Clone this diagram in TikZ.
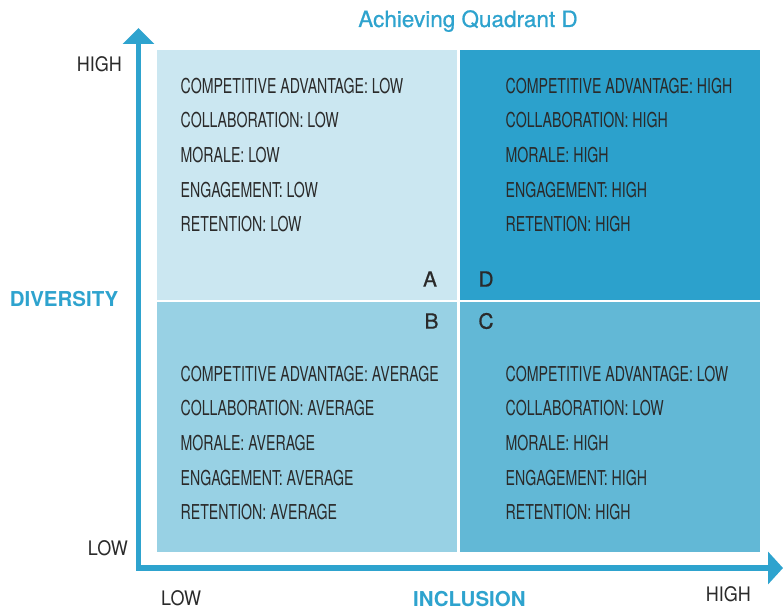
\documentclass[tikz,border=0pt]{standalone}
\usepackage{fontspec}
\setmainfont{TeX Gyre Heros}
\newfontfamily\condfont[FakeStretch=0.69]{TeX Gyre Heros}
\newfontfamily\axisfont[FakeStretch=0.9]{TeX Gyre Heros}
\newfontfamily\mediumfont[FakeBold=0.7]{TeX Gyre Heros}
\usepackage{xcolor}
\usepackage{tikz}
\usetikzlibrary{arrows.meta}
\definecolor{quadA}{HTML}{CBE7F1}
\definecolor{quadB}{HTML}{98D1E4}
\definecolor{quadC}{HTML}{62B8D6}
\definecolor{quadD}{HTML}{2CA1CC}
\definecolor{axisblue}{HTML}{2EA3CE}
\definecolor{ink}{HTML}{2A2A2A}
\tikzset{
    quad/.style={rectangle,inner sep=0pt,minimum width=299.5pt,minimum height=249.5pt,anchor=north west},
    facts/.style={align=left,anchor=north west,inner sep=0pt,text=ink,
        font=\condfont\fontsize{20.5}{34.6}\selectfont},
    quadletter/.style={inner sep=0pt,text=ink,font=\mediumfont\fontsize{21}{21}\selectfont},
    axistick/.style={inner sep=0pt,text=ink,font=\axisfont\fontsize{20}{20}\selectfont},
    axislabel/.style={inner sep=0pt,text=axisblue,font=\bfseries\fontsize{20.5}{20.5}\selectfont},
    axisline/.style={draw=axisblue,line width=5.5pt,line join=miter,
        {Triangle[width=31pt,length=16pt]}-{Triangle[width=32pt,length=15pt]}}
}
\begin{document}
\begin{tikzpicture}[x=1pt,y=-1pt]
  \useasboundingbox (0,0) rectangle (783,610);
  % the four quadrants
  \node[quad,fill=quadA] (QA) at (157,50)  {};
  \node[quad,fill=quadD] (QD) at (460,50)  {};
  \node[quad,fill=quadB] (QB) at (157,302) {};
  \node[quad,fill=quadC] (QC) at (460,302) {};
  % outcomes per quadrant
  \node[facts] (factsA) at (180.5,77.7)
    {COMPETITIVE ADVANTAGE: LOW\\COLLABORATION: LOW\\MORALE: LOW\\ENGAGEMENT: LOW\\RETENTION: LOW};
  \node[facts] (factsD) at (505.5,77.7)
    {COMPETITIVE ADVANTAGE: HIGH\\COLLABORATION: HIGH\\MORALE: HIGH\\ENGAGEMENT: HIGH\\RETENTION: HIGH};
  \node[facts] (factsB) at (180.5,365.7)
    {COMPETITIVE ADVANTAGE: AVERAGE\\COLLABORATION: AVERAGE\\MORALE: AVERAGE\\ENGAGEMENT: AVERAGE\\RETENTION: AVERAGE};
  \node[facts] (factsC) at (505.5,365.7)
    {COMPETITIVE ADVANTAGE: LOW\\COLLABORATION: LOW\\MORALE: HIGH\\ENGAGEMENT: HIGH\\RETENTION: HIGH};
  % quadrant letters around the centre
  \node[quadletter] (lA) at (430,279)   {A};
  \node[quadletter] (lD) at (486,279)   {D};
  \node[quadletter] (lB) at (431.5,321) {B};
  \node[quadletter] (lC) at (486,321)   {C};
  % axes
  \coordinate (O)    at (138.5,568);
  \coordinate (ytop) at (138.5,28);
  \coordinate (xend) at (783,568);
  \draw[axisline] (ytop) -- (O) -- (xend);
  % axis ticks and titles
  \node[axistick,anchor=east] (yhigh) at (122,64.5) {HIGH};
  \node[axistick,anchor=east] (ylow)  at (128,548)  {LOW};
  \node[axistick,anchor=west] (xlow)  at (161,598)  {LOW};
  \node[axistick,anchor=east] (xhigh) at (751,594)  {HIGH};
  \node[axislabel,anchor=east] (ytitle) at (118.5,299.5) {DIVERSITY};
  \node[axislabel,anchor=west] (xtitle) at (413,599) {INCLUSION};
  \node[inner sep=0pt,text=axisblue,font=\mediumfont\fontsize{22.5}{22.5}\selectfont,anchor=base]
    (title) at (468,27) {Achieving Quadrant D};
\end{tikzpicture}
\end{document}
